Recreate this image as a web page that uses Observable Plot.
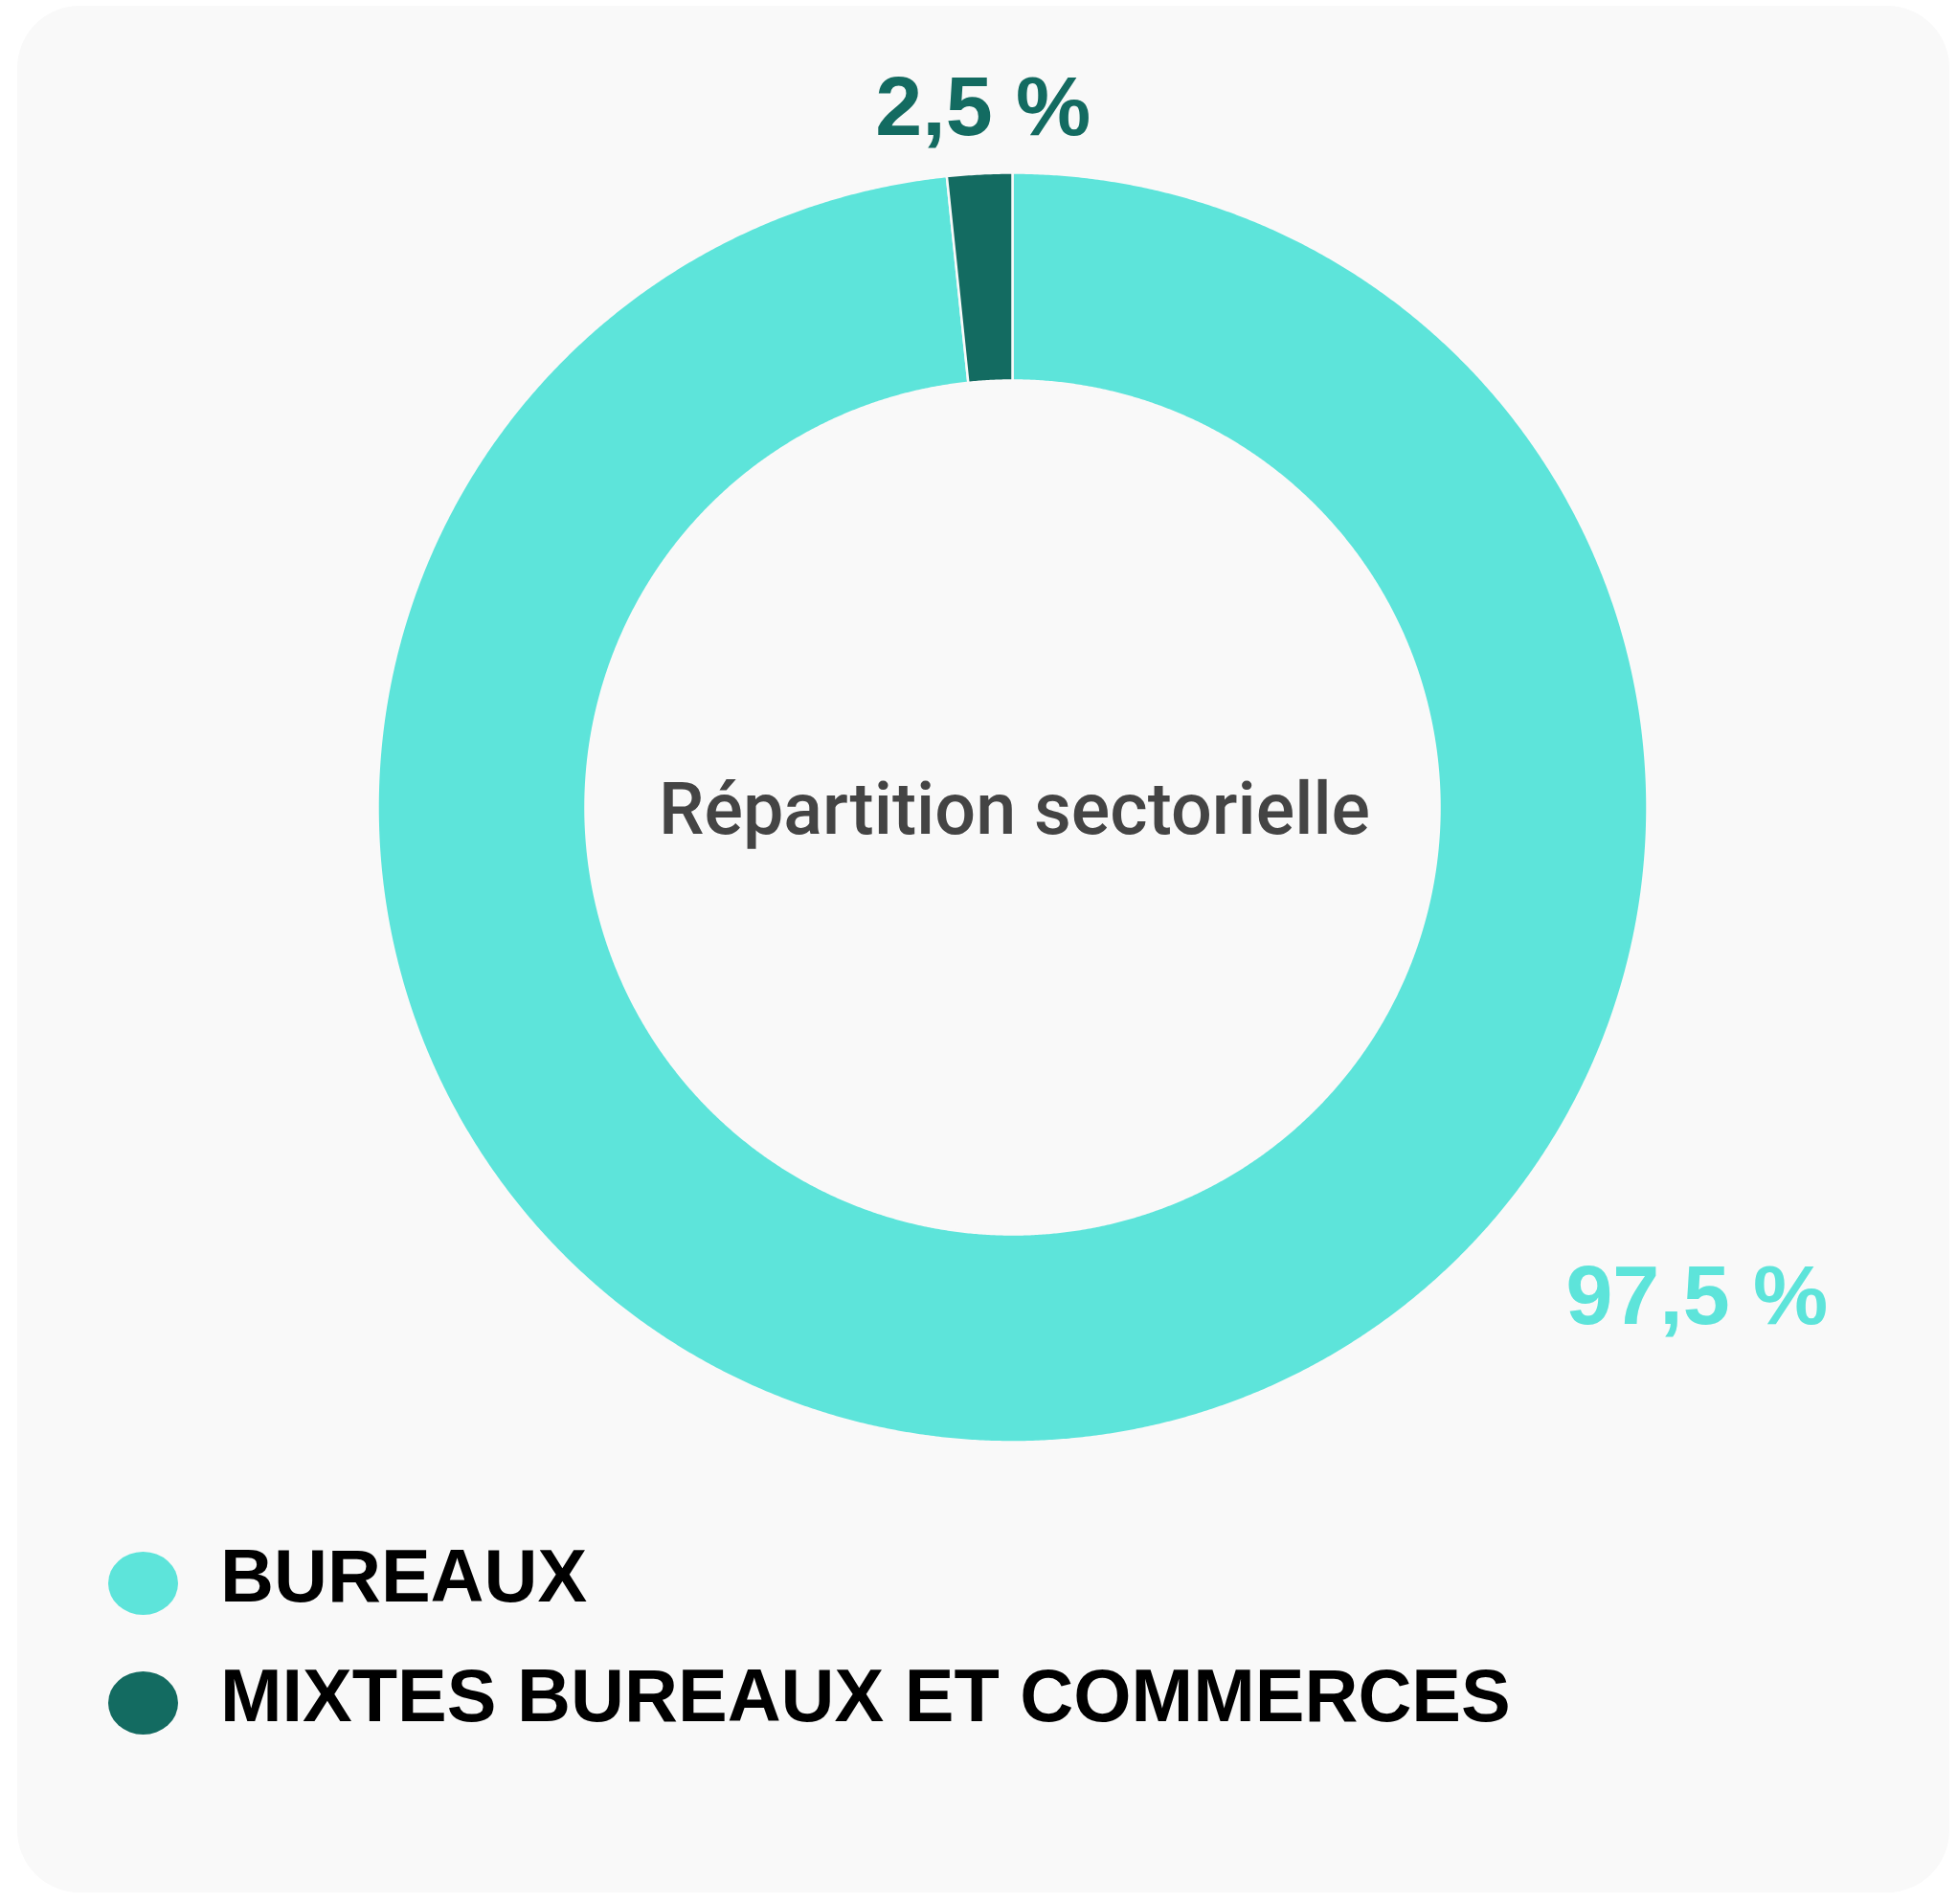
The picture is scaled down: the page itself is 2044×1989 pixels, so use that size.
<!DOCTYPE html>
<html>
<head>
<meta charset="utf-8">
<script src="https://cdn.jsdelivr.net/npm/d3@7"></script>
<script src="https://cdn.jsdelivr.net/npm/@observablehq/plot@0.6"></script>
<style>
  html, body { margin: 0; padding: 0; background: #ffffff; }
  body { width: 2044px; height: 1989px; position: relative; overflow: hidden; }
  #card { position: absolute; left: 18px; top: 6px; width: 2018px; height: 1971px;
          border-radius: 65px; background: #f9f9f9; }
  #chart { position: absolute; left: 0; top: 0; }
  .sw { position: absolute; width: 73px; height: 66px; border-radius: 50%; }
  .lt { position: absolute; font-family: "Liberation Sans", Arial, sans-serif; font-weight: bold;
        font-size: 77.5px; line-height: 77px; color: #000; white-space: nowrap; }
</style>
</head>
<body>
<div id="card"><div id="chart"></div></div>
<div id="legend"></div>
<script>
// ---- data ----
const categories = ["BUREAUX", "MIXTES BUREAUX ET COMMERCES"];
const drawnShare = [98.35, 1.65];          // slice sizes as drawn in the picture
const valueLabels = ["97,5 %", "2,5 %"];   // value labels printed on the chart
const colors = ["#5de4da", "#136b61"];
const centerTitle = "Répartition sectorielle";

// ---- layout ----
const W = 2018, H = 1560;
const cx = 1039, cy = 837;          // donut centre inside the plot
const R = 663, r0 = 446;            // outer / inner radius
const bg = "#f9f9f9";
// label placement (polar: angle clockwise from 12 o'clock, radius)
const labelPolar = [{a: 125.4, r: 877}, {a: -2.4, r: 734}];

const pie = d3.pie().sort(null).value(d => d)(drawnShare);
const slices = pie.map((p, i) => {
  const pts = [];
  const n = Math.max(4, Math.ceil((p.endAngle - p.startAngle) / (Math.PI / 720)));
  for (let k = 0; k <= n; k++) {
    const a = p.startAngle + (p.endAngle - p.startAngle) * k / n;
    pts.push({x: R * Math.sin(a), y: -R * Math.cos(a)});
  }
  for (let k = n; k >= 0; k--) {
    const a = p.startAngle + (p.endAngle - p.startAngle) * k / n;
    pts.push({x: r0 * Math.sin(a), y: -r0 * Math.cos(a)});
  }
  return {key: categories[i], color: colors[i], points: pts};
});

const labels = valueLabels.map((t, i) => {
  const a = labelPolar[i].a * Math.PI / 180;
  return {text: t, color: colors[i], x: labelPolar[i].r * Math.sin(a), y: -labelPolar[i].r * Math.cos(a)};
});

const chart = Plot.plot({
  width: W, height: H,
  margin: 0,
  x: {domain: [-cx, W - cx], range: [0, W], axis: null},
  y: {domain: [-cy, H - cy], range: [0, H], axis: null},
  style: {background: "transparent", overflow: "visible"},
  marks: [
    ...slices.map(s => Plot.line(s.points, {
      x: "x", y: "y", fill: s.color, stroke: bg, strokeWidth: 2.5, curve: "linear-closed"
    })),
    Plot.text(labels, {
      x: "x", y: "y", text: "text", fill: d => d.color,
      fontFamily: "Liberation Sans, Arial, sans-serif", fontWeight: "bold", fontSize: 88,
      textAnchor: "middle", lineAnchor: "middle", dy: 3
    }),
    Plot.text([centerTitle], {
      x: () => 2, y: () => 0, text: d => d, fill: "#444444",
      fontFamily: "Roboto, sans-serif", fontWeight: 500, fontSize: 75.5,
      textAnchor: "middle", lineAnchor: "middle", dy: 3
    })
  ]
});
document.getElementById("chart").appendChild(chart);

// ---- legend ----
const legend = document.getElementById("legend");
const rowTops = [1621, 1746];
categories.forEach((c, i) => {
  const sw = document.createElement("div");
  sw.className = "sw";
  sw.style.left = "113px";
  sw.style.top = rowTops[i] + "px";
  sw.style.background = colors[i];
  legend.appendChild(sw);
  const t = document.createElement("div");
  t.className = "lt";
  t.style.left = "230px";
  t.style.top = (rowTops[i] - 13) + "px";
  t.textContent = c;
  legend.appendChild(t);
});
</script>
</body>
</html>
